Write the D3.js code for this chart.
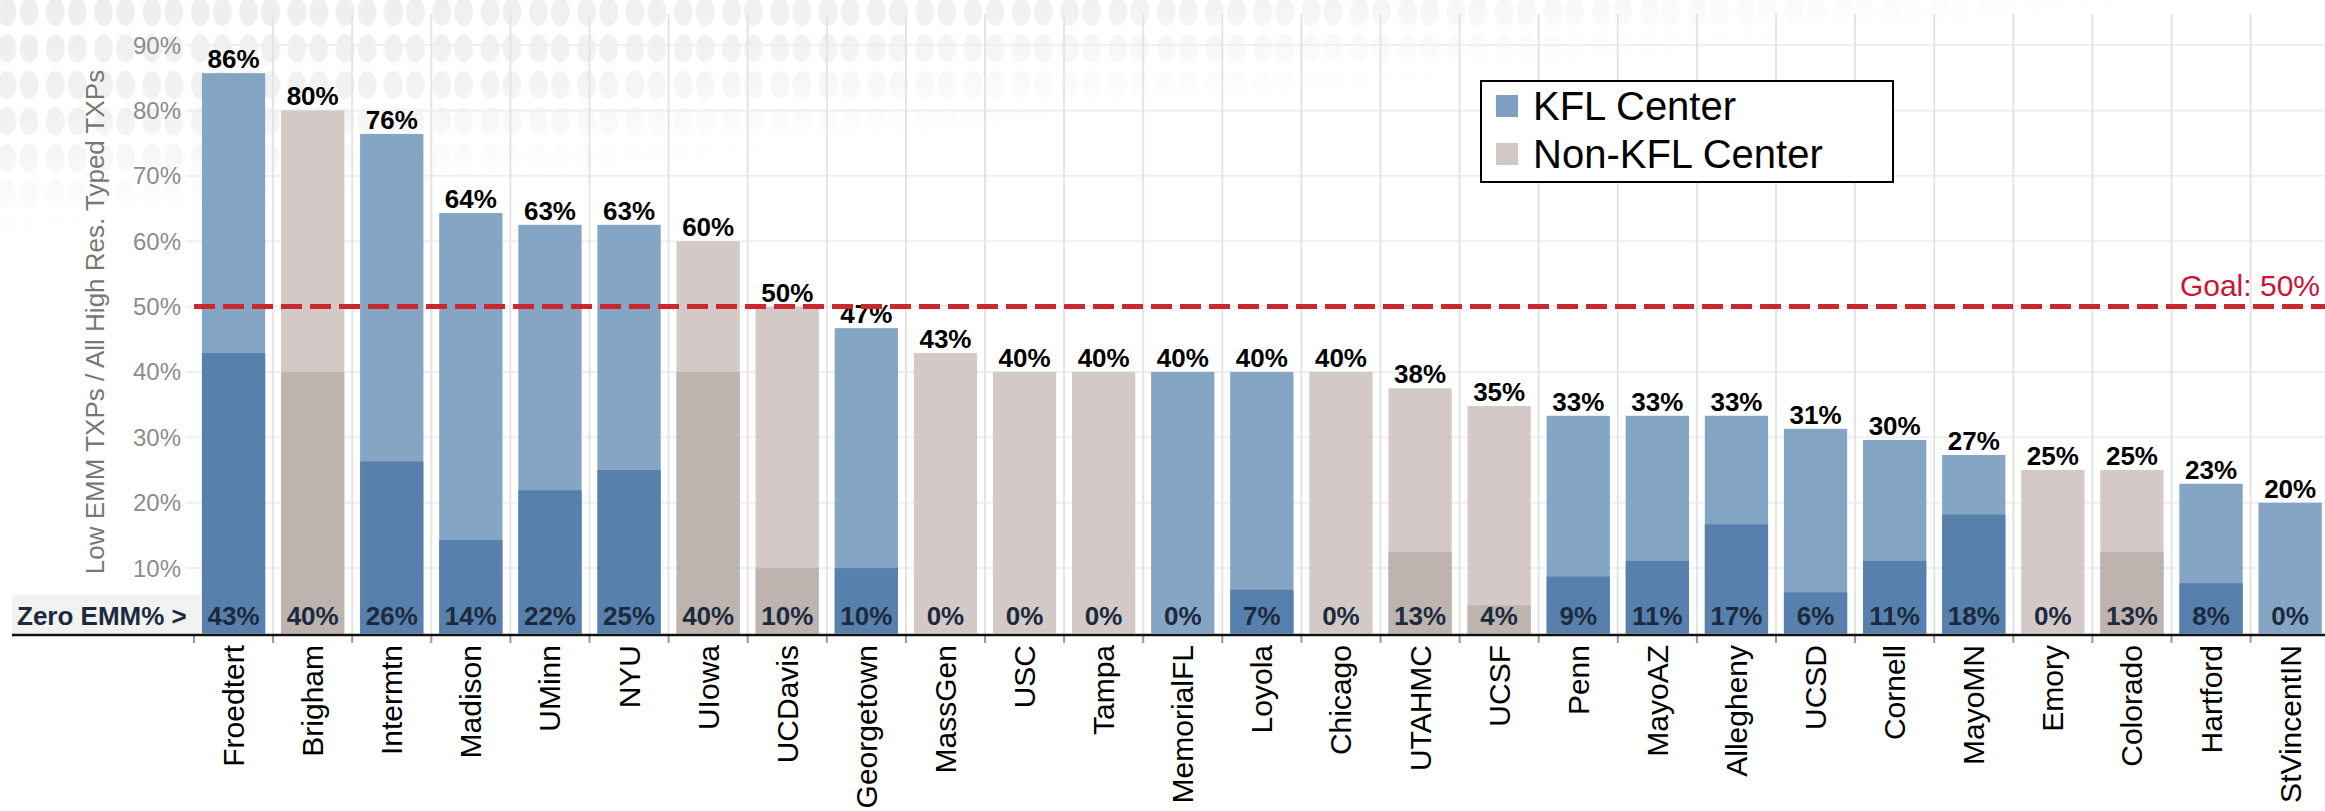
<!DOCTYPE html>
<html>
<head>
<meta charset="utf-8">
<script src="https://cdn.jsdelivr.net/npm/d3@7"></script>
<style>
  body { margin: 0; background: #fff; }
  svg { display: block; font-family: "Liberation Sans", Arial, sans-serif; }
</style>
</head>
<body>
<div id="chart"></div>
<script>
// data
var centers = ["Froedtert", "Brigham", "Intermtn", "Madison", "UMinn", "NYU", "UIowa", "UCDavis",
  "Georgetown", "MassGen", "USC", "Tampa", "MemorialFL", "Loyola", "Chicago", "UTAHMC", "UCSF",
  "Penn", "MayoAZ", "Allegheny", "UCSD", "Cornell", "MayoMN", "Emory", "Colorado", "Hartford", "StVincentIN"];
var isKfl = [1, 0, 1, 1, 1, 1, 0, 0, 1, 0, 0, 0, 1, 1, 0, 0, 0, 1, 1, 1, 1, 1, 1, 0, 0, 1, 1];
var lowEmm = [85.7, 80, 76.4, 64.3, 62.5, 62.5, 60, 50, 46.7, 42.9, 40, 40, 40, 40, 40, 37.5, 34.8,
  33.3, 33.3, 33.3, 31.3, 29.6, 27.3, 25, 25, 22.9, 20];
var zeroEmm = [42.9, 40, 26.3, 14.3, 21.9, 25, 40, 10, 10, 0, 0, 0, 0, 6.7, 0, 12.5, 4.3,
  8.7, 11.1, 16.7, 6.3, 11.1, 18.2, 0, 12.5, 7.7, 0];
var yTicks = [10, 20, 30, 40, 50, 60, 70, 80, 90];
var goal = 50;
var legendItems = ["KFL Center", "Non-KFL Center"];

var w = 2325, h = 811;
var plotTop = 14, left = 194, step = 79.1;

var colLight = { 1: "#85a5c5", 0: "#d3cac7" };
var colDark = { 1: "#5781ac", 0: "#bdb3af" };

var dataset = centers.map(function (c, i) {
  return { name: c, kfl: isKfl[i], low: lowEmm[i], zero: zeroEmm[i] };
});

var svg = d3.select("#chart").append("svg").attr("width", w).attr("height", h);

// faint kidney watermark, fading to the bottom right
var defs = svg.append("defs");
var pat = defs.append("pattern").attr("id", "kid").attr("patternUnits", "userSpaceOnUse")
  .attr("width", 48.3).attr("height", 36.5).attr("x", -6).attr("y", -6);
pat.append("ellipse").attr("cx", 13).attr("cy", 18).attr("rx", 9.5).attr("ry", 14).attr("fill", "#eeeeee");
pat.append("ellipse").attr("cx", 35).attr("cy", 18).attr("rx", 9.5).attr("ry", 14).attr("fill", "#eeeeee");
var grad = defs.append("linearGradient").attr("id", "fade")
  .attr("x1", 0).attr("y1", 0).attr("x2", 1).attr("y2", 1);
grad.append("stop").attr("offset", 0).attr("stop-color", "#fff").attr("stop-opacity", 1);
grad.append("stop").attr("offset", 0.25).attr("stop-color", "#fff").attr("stop-opacity", 0.8);
grad.append("stop").attr("offset", 0.47).attr("stop-color", "#fff").attr("stop-opacity", 0);
var mask = defs.append("mask").attr("id", "fadeMask");
mask.append("rect").attr("width", w).attr("height", 250).attr("fill", "url(#fade)");
svg.append("rect").attr("width", w).attr("height", 250).attr("fill", "url(#kid)")
  .attr("mask", "url(#fadeMask)");

// scales
var xScale = d3.scaleBand()
  .domain(centers)
  .range([left, left + step * centers.length])
  .paddingInner(0.2)
  .paddingOuter(0.1);

var yScale = d3.scaleLinear()
  .domain([0, 90])
  .range([633.5, 45]);

// gridlines
svg.append("g").selectAll("line").data(yTicks).enter().append("line")
  .attr("x1", 186).attr("x2", w)
  .attr("y1", function (d) { return yScale(d); })
  .attr("y2", function (d) { return yScale(d); })
  .attr("stroke", "#efefef").attr("stroke-width", 2);

svg.append("g").selectAll("line").data(centers.slice(1)).enter().append("line")
  .attr("x1", function (d) { return xScale(d) - xScale.step() * 0.1; })
  .attr("x2", function (d) { return xScale(d) - xScale.step() * 0.1; })
  .attr("y1", plotTop).attr("y2", 634)
  .attr("stroke", "#e4e4e4").attr("stroke-width", 2);

// y tick labels
svg.append("g").selectAll("text").data(yTicks).enter().append("text")
  .attr("x", 181)
  .attr("y", function (d) { return yScale(d) + 8.5; })
  .attr("text-anchor", "end")
  .attr("font-size", "24px")
  .attr("fill", "#8c8c8c")
  .text(function (d) { return d + "%"; });

// y axis title
svg.append("text")
  .attr("transform", "translate(104,322) rotate(-90)")
  .attr("text-anchor", "middle")
  .attr("font-size", "26px")
  .attr("fill", "#777777")
  .text("Low EMM TXPs / All High Res. Typed TXPs");

// bars
svg.append("g").selectAll("rect").data(dataset).enter().append("rect")
  .attr("x", function (d) { return xScale(d.name); })
  .attr("y", function (d) { return yScale(d.low); })
  .attr("width", xScale.bandwidth())
  .attr("height", function (d) { return yScale(0) - yScale(d.low); })
  .attr("fill", function (d) { return colLight[d.kfl]; });

svg.append("g").selectAll("rect").data(dataset).enter().append("rect")
  .attr("x", function (d) { return xScale(d.name); })
  .attr("y", function (d) { return yScale(d.zero); })
  .attr("width", xScale.bandwidth())
  .attr("height", function (d) { return yScale(0) - yScale(d.zero); })
  .attr("fill", function (d) { return colDark[d.kfl]; });

// zero EMM label box
svg.append("rect").attr("x", 12).attr("y", 595).attr("width", 190).attr("height", 40).attr("fill", "#f2f2f2");
svg.append("text").attr("x", 17).attr("y", 625)
  .attr("font-size", "26px").attr("font-weight", "bold").attr("fill", "#1c2a3e")
  .text("Zero EMM% >");

// labels on top
svg.append("g").selectAll("text").data(dataset).enter().append("text")
  .attr("x", function (d) { return xScale(d.name) + xScale.bandwidth() / 2; })
  .attr("y", function (d) { return yScale(d.low) - 5; })
  .attr("text-anchor", "middle")
  .attr("font-size", "26px").attr("font-weight", "bold").attr("fill", "#000")
  .text(function (d) { return Math.round(d.low) + "%"; });

// labels at the bottom
svg.append("g").selectAll("text").data(dataset).enter().append("text")
  .attr("x", function (d) { return xScale(d.name) + xScale.bandwidth() / 2; })
  .attr("y", 625)
  .attr("text-anchor", "middle")
  .attr("font-size", "26px").attr("font-weight", "bold").attr("fill", "#1c2a3e")
  .text(function (d) { return Math.round(d.zero) + "%"; });

// goal line
svg.append("line")
  .attr("x1", left).attr("x2", w)
  .attr("y1", yScale(goal)).attr("y2", yScale(goal))
  .attr("stroke", "#c8282e").attr("stroke-width", 5)
  .attr("stroke-dasharray", "21,8");
svg.append("text")
  .attr("x", 2320).attr("y", yScale(goal) - 11)
  .attr("text-anchor", "end")
  .attr("font-size", "30px").attr("fill", "#cc1236")
  .text("Goal: " + goal + "%");

// x axis
var xAxis = d3.axisBottom(xScale).tickSize(0).tickPadding(0);
var gx = svg.append("g").attr("class", "axis").attr("transform", "translate(0,635)").call(xAxis);
gx.select(".domain").remove();
gx.selectAll(".tick text")
  .attr("transform", "translate(0,10) rotate(-90)")
  .attr("text-anchor", "end")
  .attr("dy", "0.35em")
  .attr("x", 0).attr("y", 0)
  .attr("font-family", "Liberation Sans, Arial, sans-serif")
  .attr("font-size", "30px").attr("fill", "#000");

svg.append("g").selectAll("line").data(centers).enter().append("line")
  .attr("x1", function (d) { return xScale(d) - xScale.step() * 0.1; })
  .attr("x2", function (d) { return xScale(d) - xScale.step() * 0.1; })
  .attr("y1", 636).attr("y2", 643)
  .attr("stroke", "#999").attr("stroke-width", 2);

svg.append("line").attr("x1", 12).attr("x2", w).attr("y1", 635).attr("y2", 635)
  .attr("stroke", "#111").attr("stroke-width", 2.5);

// legend
var lg = svg.append("g");
lg.append("rect").attr("x", 1481).attr("y", 81).attr("width", 412).attr("height", 101)
  .attr("fill", "#fff").attr("stroke", "#000").attr("stroke-width", 2);
lg.selectAll(".sw").data(legendItems).enter().append("rect")
  .attr("x", 1496).attr("y", function (d, i) { return 95 + i * 48; })
  .attr("width", 22).attr("height", 22)
  .attr("fill", function (d, i) { return i == 0 ? "#7f9fc3" : "#d0c8c5"; });
lg.selectAll(".lt").data(legendItems).enter().append("text")
  .attr("x", 1533).attr("y", function (d, i) { return 120 + i * 48; })
  .attr("font-size", "40px").attr("fill", "#000")
  .text(function (d) { return d; });
</script>
</body>
</html>
